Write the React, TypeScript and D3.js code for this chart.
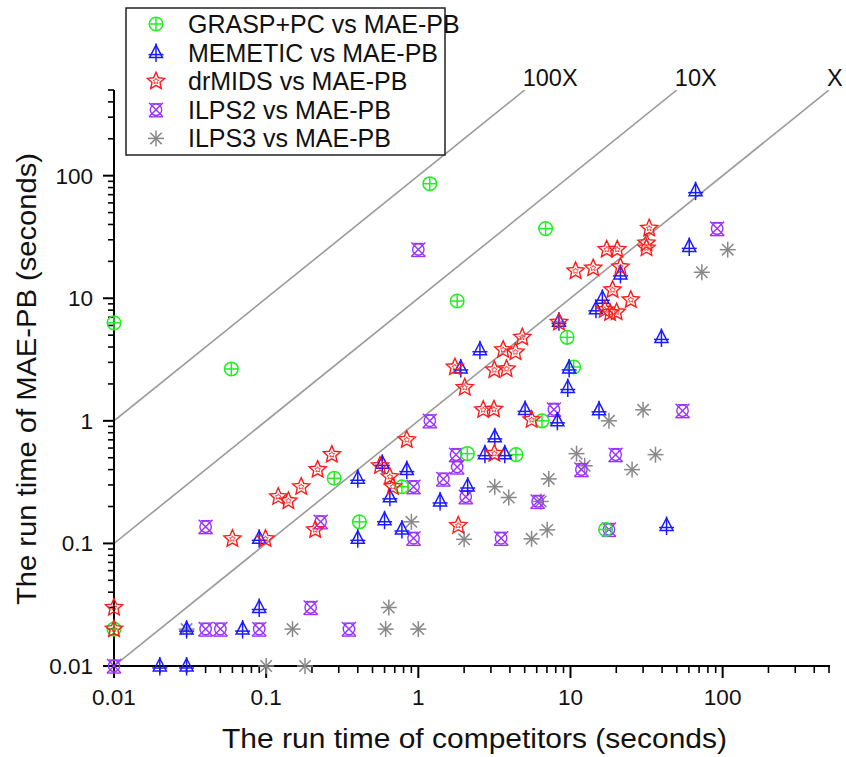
import React from "react";
import * as d3 from "d3";

// GRASP+PC vs MAE-PB
const graspX = [0.01, 0.059, 0.28, 0.41, 0.78, 1.19, 1.8, 2.1, 4.38, 6.5, 6.86, 9.5, 10.5, 17, 0.01];
const graspY = [6.3, 2.65, 0.34, 0.15, 0.29, 86, 9.5, 0.54, 0.53, 1.0, 37, 4.8, 2.75, 0.13, 0.02];

// MEMETIC vs MAE-PB
const memeticX = [0.02, 0.03, 0.03, 0.07, 0.09, 0.09, 0.4, 0.4, 0.58, 0.6, 0.65, 0.78, 0.84, 1.39, 1.9, 2.11, 2.54, 2.74, 3.18, 3.7, 5.03, 8.2, 8.4, 9.6, 9.8, 14.7, 15.4, 16.2, 21.3, 39.6, 42.8, 60.3, 66.4];
const memeticY = [0.01, 0.01, 0.02, 0.02, 0.03, 0.11, 0.34, 0.11, 0.45, 0.156, 0.24, 0.131, 0.4, 0.222, 2.7, 0.294, 3.8, 0.54, 0.74, 0.54, 1.24, 1.0, 6.5, 1.87, 2.7, 8.2, 1.23, 10, 15.8, 4.79, 0.14, 26.5, 75.5];

// drMIDS vs MAE-PB
const drmidsX = [0.01, 0.01, 0.06, 0.099, 0.12, 0.14, 0.17, 0.21, 0.218, 0.27, 0.56, 0.65, 0.68, 0.84, 1.74, 1.83, 2.02, 2.67, 3.14, 3.16, 3.16, 3.61, 3.8, 4.35, 4.82, 5.55, 8.4, 10.8, 14.1, 16.8, 17.3, 18.2, 18.9, 20.1, 20.3, 21.3, 24.9, 31.6, 31.6, 32.9];
const drmidsY = [0.03, 0.02, 0.109, 0.109, 0.24, 0.222, 0.29, 0.129, 0.4, 0.53, 0.43, 0.35, 0.29, 0.7, 2.74, 0.14, 1.87, 1.23, 1.24, 0.54, 2.6, 3.8, 2.65, 3.64, 4.8, 1.02, 6.36, 16.7, 17.6, 8.06, 25, 7.6, 11.7, 7.7, 25, 18, 9.7, 28.2, 25.7, 37.2];

// ILPS2 vs MAE-PB
const ilps2X = [0.01, 0.04, 0.04, 0.05, 0.09, 0.196, 0.228, 0.35, 0.93, 0.93, 1.0, 1.19, 1.46, 1.77, 1.8, 2.05, 3.5, 6.08, 7.78, 11.8, 17.9, 19.8, 54.5, 92];
const ilps2Y = [0.01, 0.137, 0.02, 0.02, 0.02, 0.03, 0.15, 0.02, 0.29, 0.11, 25, 1.0, 0.335, 0.53, 0.42, 0.24, 0.11, 0.22, 1.24, 0.4, 0.13, 0.53, 1.21, 37];

// ILPS3 vs MAE-PB
const ilps3X = [0.03, 0.1, 0.149, 0.18, 0.61, 0.64, 0.9, 1.0, 2.0, 3.18, 3.93, 5.55, 6.38, 7.03, 7.2, 10.96, 12.4, 17.9, 25.4, 30, 36.2, 73, 108];
const ilps3Y = [0.02, 0.01, 0.02, 0.01, 0.02, 0.03, 0.15, 0.02, 0.108, 0.29, 0.237, 0.109, 0.22, 0.129, 0.336, 0.54, 0.43, 1.0, 0.4, 1.23, 0.53, 16.3, 24.9];

const majorTicks = [0.01, 0.1, 1, 10, 100];
const tickLabels = ["0.01", "0.1", "1", "10", "100"];
const refFactors = [100, 10, 1];
const refLabels = ["100X", "10X", "X"];

const seriesNames = [
  "GRASP+PC vs MAE-PB",
  "MEMETIC vs MAE-PB",
  "drMIDS vs MAE-PB",
  "ILPS2 vs MAE-PB",
  "ILPS3 vs MAE-PB",
];

const FONT = "'Liberation Sans', Arial, sans-serif";

const Marker = ({ kind, x, y }: { kind: number; x: number; y: number }) => {
  const t = `translate(${x},${y})`;
  if (kind === 0) {
    return (
      <g transform={t} stroke="#22ee22" strokeWidth={1.5} fill="none">
        <circle r={6.8} />
        <line x1={-6.8} x2={6.8} y1={0} y2={0} />
        <line x1={0} x2={0} y1={-6.8} y2={6.8} />
      </g>
    );
  }
  if (kind === 1) {
    return (
      <g transform={t} stroke="#1a1aff" strokeWidth={1.5} fill="none">
        <path d="M0,-7.5 L6.5,5 L-6.5,5 Z" />
        <line x1={0} x2={0} y1={-9} y2={9.5} />
        <line x1={-7.5} x2={7.5} y1={2} y2={2} />
      </g>
    );
  }
  if (kind === 2) {
    const star = (ro: number, ri: number) =>
      d3.range(10).map((i) => {
        const a = (Math.PI / 5) * i - Math.PI / 2;
        const r = i % 2 === 0 ? ro : ri;
        return [r * Math.cos(a), r * Math.sin(a)] as [number, number];
      });
    const line = d3.line().curve(d3.curveLinearClosed);
    return (
      <g transform={t} stroke="#ff1a1a" strokeWidth={1.4} fill="none">
        <path d={line(star(9, 4.2)) || ""} />
        <path d={line(star(3, 1.5)) || ""} strokeWidth={0.8} />
      </g>
    );
  }
  if (kind === 3) {
    return (
      <g transform={t} stroke="#9933ff" strokeWidth={1.4} fill="none">
        <circle r={5.7} />
        <line x1={-7} x2={7} y1={-7} y2={7} />
        <line x1={7} x2={-7} y1={-7} y2={7} />
        <line x1={-5} x2={5} y1={-6} y2={-6} />
        <line x1={-7} x2={7} y1={7} y2={7} />
      </g>
    );
  }
  return (
    <g transform={t} stroke="#888888" strokeWidth={1.5} fill="none">
      <line x1={-8} x2={8} y1={0} y2={0} />
      <line x1={0} x2={0} y1={-8} y2={8} />
      <line x1={-5.7} x2={5.7} y1={-5.7} y2={5.7} />
      <line x1={5.7} x2={-5.7} y1={-5.7} y2={5.7} />
    </g>
  );
};

export default function App() {
  const width = 846;
  const height = 757;
  const left = 114;
  const right = 829;
  const bottom = 666;
  const top = 90;

  const x = d3.scaleLog().domain([0.01, 500]).range([left, right]);
  const y = d3.scaleLog().domain([0.01, 500]).range([bottom, top]);

  const minorTicks: number[] = [];
  majorTicks.forEach((d) => {
    for (let k = 2; k <= 9; k++) {
      const v = d * k;
      if (v <= 500.0001) minorTicks.push(v);
    }
  });

  const series = [
    [graspX, graspY],
    [memeticX, memeticY],
    [drmidsX, drmidsY],
    [ilps2X, ilps2Y],
    [ilps3X, ilps3Y],
  ];
  const drawOrder = [4, 3, 0, 1, 2];

  return (
    <svg
      width={width}
      height={height}
      style={{ position: "absolute", left: 0, top: 0, background: "#fff" }}
      fontFamily={FONT}
    >
      <defs>
        <clipPath id="plotClip">
          <rect x={left} y={top} width={right - left} height={bottom - top} />
        </clipPath>
      </defs>

      {/* reference lines */}
      <g clipPath="url(#plotClip)">
        {refFactors.map((k) => {
          const x0 = 0.01;
          const x1 = 500 / k;
          return (
            <line
              key={k}
              x1={x(x0)}
              y1={y(x0 * k)}
              x2={x(x1)}
              y2={y(x1 * k)}
              stroke="#9a9a9a"
              strokeWidth={1.6}
            />
          );
        })}
      </g>
      {refFactors.map((k, i) => (
        <text key={k} x={x(500 / k) - 2} y={top - 4} fontSize={23.5} fill="#111">
          {refLabels[i]}
        </text>
      ))}

      {/* axes */}
      <line x1={left} x2={right + 1} y1={bottom} y2={bottom} stroke="#000" strokeWidth={2} />
      <line x1={left} x2={left} y1={top} y2={bottom + 1} stroke="#000" strokeWidth={2} />
      {majorTicks.map((d, i) => (
        <g key={"mx" + d}>
          <line x1={x(d)} x2={x(d)} y1={bottom} y2={bottom + 12} stroke="#000" strokeWidth={2} />
          <line x1={left} x2={left - 11} y1={y(d)} y2={y(d)} stroke="#000" strokeWidth={2} />
          <text x={x(d)} y={bottom + 39} fontSize={22.5} textAnchor="middle" fill="#111">
            {tickLabels[i]}
          </text>
          <text x={left - 21} y={y(d) + 8} fontSize={22.5} textAnchor="end" fill="#111">
            {tickLabels[i]}
          </text>
        </g>
      ))}
      {minorTicks.map((d) => (
        <g key={"mn" + d}>
          <line x1={x(d)} x2={x(d)} y1={bottom} y2={bottom + 7} stroke="#000" strokeWidth={1.6} />
          <line x1={left} x2={left - 6} y1={y(d)} y2={y(d)} stroke="#000" strokeWidth={1.6} />
        </g>
      ))}

      {/* points */}
      {drawOrder.map((si) => (
        <g key={"s" + si}>
          {series[si][0].map((xv, j) => (
            <Marker key={j} kind={si} x={x(xv)} y={y(series[si][1][j])} />
          ))}
        </g>
      ))}

      {/* axis titles */}
      <text
        x={222}
        y={748}
        fontSize={27}
        textLength={505}
        lengthAdjust="spacingAndGlyphs"
        fill="#111"
      >
        The run time of competitors (seconds)
      </text>
      <text
        transform={`translate(36,605) rotate(-90)`}
        fontSize={28}
        textLength={452}
        lengthAdjust="spacingAndGlyphs"
        fill="#111"
      >
        The run time of MAE-PB (seconds)
      </text>

      {/* legend */}
      <rect x={126} y={8} width={319} height={147} fill="#fff" stroke="#222" strokeWidth={1.5} />
      {seriesNames.map((name, i) => {
        const ly = 24 + i * 28.6;
        return (
          <g key={name}>
            <Marker kind={i} x={156} y={ly} />
            <text x={188} y={ly + 9} fontSize={25} fill="#111">
              {name}
            </text>
          </g>
        );
      })}
    </svg>
  );
}
